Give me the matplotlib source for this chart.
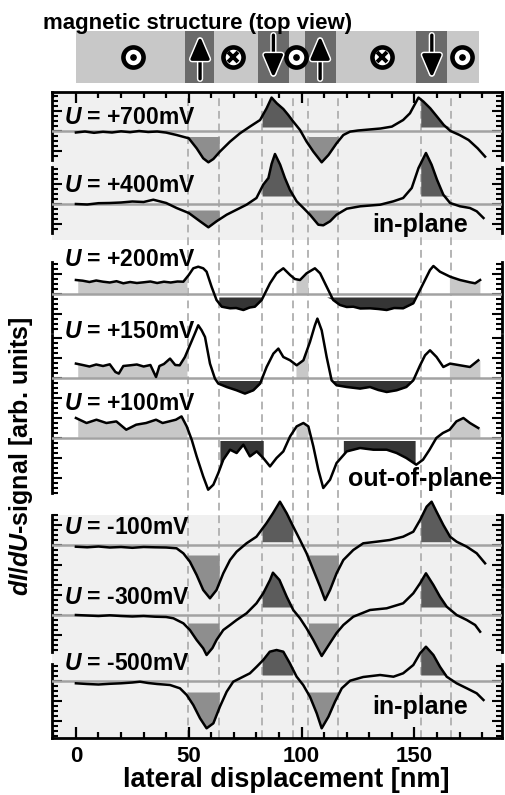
import numpy as np
import matplotlib
matplotlib.use("Agg")
import matplotlib.pyplot as plt
from matplotlib.ticker import MultipleLocator
import matplotlib.patheffects as pe

plt.rcParams['font.family'] = ['Liberation Sans', 'DejaVu Sans']
plt.rcParams['font.weight'] = 'bold'
plt.rcParams['mathtext.fontset'] = 'custom'
plt.rcParams['mathtext.it'] = 'Liberation Sans:italic:bold'
plt.rcParams['mathtext.rm'] = 'Liberation Sans:bold'

# ---------------- data (x in nm, signal in arb. units, 0 = trace baseline)
x700 = [0, 4, 8, 12, 16, 20, 24, 28, 32, 36, 40, 44.6, 50, 53.5, 56.4, 58.7, 60.9, 63.8, 68.3, 72.7,
        77.1, 81.6, 84.5, 86.7, 89, 91.9, 94.1, 96.3, 99.3, 102.2, 105.2, 108.9, 111.9, 115.5, 118.5,
        121.5, 125, 130, 135, 140, 145, 148, 150, 151.8, 154, 157, 160, 163, 166, 170, 174, 178, 181.3]
y700 = [-1.5, -0.5, -1.8, -0.8, -1.5, -0.3, -1.2, 0, -1, -0.5, -1.6, -4, -7.3, -17.3, -27.3, -31.3, -28,
        -20.6, -10.6, -2.3, 4.4, 11, 22.7, 33.4, 27.7, 22, 16, 9.4, 1, -10.6, -20.6, -31.3, -24, -12.3,
        -4, -0.6, 0.5, 1.5, 2.5, 4.4, 11, 17.7, 26, 33.4, 29.4, 22.7, 14.4, 6, 0, -4, -9, -17.3, -25.6]

x400 = [0, 5, 10, 15, 20, 25, 30, 34.3, 40, 44.6, 50, 55, 58.7, 62.3, 66.8, 71.2, 75.6, 80, 83, 85.3,
        86.7, 88.2, 90.5, 92.6, 94.8, 97.8, 100.8, 103.7, 107.4, 109.6, 112.6, 115.5, 120, 126, 134.8,
        140.7, 145, 148.8, 151.8, 155.1, 157.6, 160, 162.8, 165.8, 170.2, 174.6, 177.6, 180.6]
y400 = [0, -0.5, 0.8, 1, 1.5, 2.5, 2, 4.3, 1, -4, -9, -17.3, -23.3, -17.3, -10.7, -5.7, -0.7, 6, 19.3,
        26, 40, 50, 39.3, 26, 14.3, 2.7, -4, -10.7, -20.7, -21.3, -17.3, -10.7, -4.7, -2.3, -0.7, 2.7, 6,
        16, 36, 51, 39.3, 24.3, 9.3, 1, -2.3, -4, -7.3, -14]

x200 = [0, 3, 6, 9, 12, 15, 18, 21, 24, 27, 30, 33, 36, 39, 42, 45, 47.6, 50, 52, 54.2, 56.4, 57.9,
        60.1, 62.3, 64.6, 68.3, 71, 74.2, 77, 79.3, 82.3, 86, 88.9, 91.9, 94.9, 97, 99.3, 102.2, 105.9,
        108.2, 111.1, 114, 117, 120, 122.9, 126, 130.3, 134, 137.7, 141, 145, 149.5, 153.2, 156.9,
        158.4, 161.3, 165.8, 170.2, 174.6, 176.9, 179.1]
y200 = [14, 13.3, 12, 13.5, 12.3, 11.5, 12.8, 10.7, 12, 11, 11.7, 12.5, 11, 12.3, 11.5, 12.5, 12.3, 19,
        25.7, 27.3, 25.7, 22.3, 7.3, -6, -12.7, -14.3, -14, -16, -13.5, -12.7, -6, 10.7, 20.7, 25.7, 19,
        15, 14, 20.7, 25.7, 20.7, 7.3, -6, -11, -13, -12.7, -14.5, -14.3, -15, -16, -14, -14.3, -9.3,
        7.3, 24, 28, 22.3, 17.3, 14, 11.7, 10.7, 14]

x150 = [0, 3, 6, 9, 12, 15, 17.5, 19, 21, 24, 27, 30, 33, 35.5, 37, 39, 41.7, 44, 46, 48.3, 50.5,
        52.7, 54.2, 55.7, 57.2, 59.4, 61.6, 63.1, 66.8, 71.2, 74.9, 78.6, 81.6, 84.5, 87.5, 89.7, 91.9,
        94.9, 97.8, 100.8, 103.7, 105.9, 107, 108.9, 111.1, 113.3, 115.5, 120, 125.9, 130.3, 134,
        137.7, 142.1, 146.4, 149.5, 152.5, 154.7, 156.9, 159.8, 162.8, 165.8, 170.2, 174.6, 178.3]
y150 = [14.4, 13, 11.5, 13.5, 12, 13.7, 6, 4.4, 12, 12.7, 13.5, 11.5, 13, 1, 12, 14, 19.4, 13, 12.7,
        21, 32.7, 44.4, 52.7, 47.7, 41, 14.4, -0.6, -5.6, -9, -12.3, -15.6, -12.3, -5.6, 11, 24.4, 29.4,
        21, 17.7, 12.7, 17.7, 36, 52.7, 59.4, 47.7, 21, -2.3, -7.3, -9, -10.6, -9, -12, -14, -12.3, -9,
        -2.3, 12.7, 22.7, 27.7, 21, 11, 14.4, 12.7, 11, 17.7]

x100 = [0, 4.7, 9.1, 13.5, 17.9, 22.3, 26.7, 31.1, 35.5, 38.4, 41.3, 44.3, 46.8, 49.1, 51.3, 53.5,
        56.4, 58.6, 60.9, 63.1, 65.3, 68.3, 71.2, 74.2, 77.1, 80.1, 83, 86, 88.9, 91.9, 94.9, 97.8,
        100.8, 103, 105.2, 107.4, 109.6, 112.6, 115.5, 120, 125.9, 131.8, 137.7, 142.1, 146.4, 150.8,
        153.8, 156.7, 159.7, 162.6, 165.6, 168.6, 171.7, 174.6, 178.3]
y100 = [20, 15, 18.3, 15, 16.6, 8.3, 13.3, 15, 18.3, 15, 16.6, 18.3, 21.6, 11.6, -1.7, -18.4, -38.4,
        -51.7, -46.7, -35, -21.7, -11.7, -15, -6.7, -18.4, -13.4, -20, -28.4, -20, -13.4, 1.6, 11.6, 15,
        11.6, -8.4, -31.7, -50, -41.7, -25, -13.4, -10, -11.7, -11.7, -15, -20, -26.7, -21.7, -11.7, 0,
        5, 8.3, 16.6, 20, 15, 10]

xm100 = [0, 5, 10, 15, 20, 25, 30, 35, 40, 44.6, 47.6, 50.5, 53.5, 56.4, 59.4, 62.3, 65.3, 68.3, 71.2,
         75.6, 80, 84.4, 87.3, 90.4, 93.4, 96.3, 99.3, 102.2, 105.2, 108.2, 110.4, 112.6, 115.5, 118.5,
         122.9, 127.3, 133.2, 139.1, 145, 149.5, 152.5, 155.4, 157.6, 159.8, 162.8, 165.8, 168.7, 173.2,
         177.6, 181.3]
ym100 = [-1.7, -2.3, -1.5, -2.5, -2, -2.8, -2, -2.3, -2.5, -3.3, -8.3, -16.7, -30, -45, -53.3, -45,
         -28.3, -15, -6.7, 1.7, 8.3, 21.7, 31.7, 43.3, 31.7, 18.3, 5, -8.3, -25, -41.7, -55, -45, -28.3,
         -15, -5, 1.7, 3.3, 5, 8.3, 13.3, 25, 38.3, 43.3, 33.3, 20, 8.3, 3.3, -1.7, -8.3, -18.3]

xm300 = [0, 5, 10, 15, 20, 25, 30, 35, 40, 43.2, 47.6, 50.5, 53.5, 56.4, 57.9, 60.5, 62.3, 65.3, 68.3,
         71.2, 75.6, 80, 83, 86, 87.3, 90.2, 93.4, 96.3, 99.3, 102.2, 105.2, 108.9, 112.6, 115.5, 118.5,
         122.9, 130.3, 137.7, 145, 149.5, 152.5, 155.1, 158.4, 161.3, 164.3, 168.7, 173.2, 176.9, 179.1]
ym300 = [0, -0.5, -1, -0.3, -1, -1.5, -1, -1.7, -2, -3.3, -8.3, -15, -25, -33.3, -40, -33, -25, -15,
         -10, -5, 1.7, 11.7, 21.7, 35, 42.3, 35, 18.3, 5, -3.3, -13.3, -25, -41, -28, -18, -10, -1.7, 5,
         6.7, 11.7, 21.7, 31.7, 41.7, 30, 18.3, 8.3, 0, -5, -10, -16.7]

xm500 = [0, 5, 10, 15, 20, 25, 28.4, 32, 36, 41.7, 46.1, 49.1, 52, 55, 57.9, 60.9, 63.8, 66.8, 69.7,
         72.7, 77.1, 80.1, 83, 85.9, 88.9, 91.9, 94.8, 97.8, 100.7, 103.7, 106.7, 108.9, 111.9, 114.8,
         117.8, 121.5, 127.3, 134.8, 140.7, 145, 149.5, 152.5, 155.1, 158.4, 161.3, 164.3, 168.7, 173.2,
         177.6, 180.6]
ym500 = [-2.3, -3, -3.5, -2.8, -2.3, -1.5, -0.7, -2, -3, -4, -7.3, -14, -24, -37.3, -47.3, -42.3,
         -25.7, -10.7, -0.7, 2.7, 7.7, 14.3, 21, 29.3, 31, 29.3, 17.7, 4.3, -4, -15.7, -32.3, -47.3,
         -35.7, -20.7, -7.3, 0.3, 4, 6, 4.3, 7.7, 16, 27.7, 34.3, 26, 14.3, 4.3, -2.3, -7.3, -12.3, -19]

labels = ['+700', '+400', '+200', '+150', '+100', '-100', '-300', '-500']
kinds = ['in', 'in', 'out', 'out', 'out', 'in', 'in', 'in']
xs_all = [x700, x400, x200, x150, x100, xm100, xm300, xm500]
ys_all = [y700, y400, y200, y150, y100, ym100, ym300, ym500]

# domain walls (dashed lines) and top-view structure
walls = [49.5, 63.5, 82.5, 96, 103, 116.3, 152.8, 166]
bands = [(48.3, 61.3), (80.7, 94.4), (101.5, 115.2), (150.7, 164.5)]
sym_x = [25.4, 55, 69.7, 87.5, 97.4, 108.2, 135.5, 157.7, 171]
sym_kind = ['out', 'up', 'in', 'down', 'out', 'up', 'in', 'down', 'out']

# ---------------- layout (figure pixel rows)
W, H = 505, 795
base_px = [131, 204, 294, 378, 438, 545, 615, 681]
seg_px = [(92, 160), (167, 233), (262, 332), (335, 398), (401, 493), (515, 587), (590, 652), (664, 738)]
lab_px = [118, 185, 260, 332, 404, 528, 598, 664]
fill_up = [4, 8, 0, 0, 1, 3.3, 8, 6]
fill_dn = [-5.5, -6, -3, -2.5, -2.5, -10, -8, -11]

X0, X1 = -10.6, 188.8
axL, axR, axT, axB = 52, 502, 92, 738

fig = plt.figure(figsize=(W / 100, H / 100), dpi=100)
ax = fig.add_axes([axL / W, 1 - axB / H, (axR - axL) / W, (axB - axT) / H])
ax.set_xlim(X0, X1)
ax.set_ylim(0, axB - axT)
ax.axhspan(axB - 240, axB - axT, color='#f0f0f0', lw=0, zorder=0)
ax.axhspan(0, axB - 515, color='#f0f0f0', lw=0, zorder=0)
for w in walls:
    ax.axvline(w, color='#b4b4b4', lw=1.4, ls=(0, (4, 2.5)), zorder=1)
ax.spines['left'].set_visible(False)
ax.spines['right'].set_visible(False)
for s in ['top', 'bottom']:
    ax.spines[s].set_linewidth(2)
ax.set_yticks([])
ax.xaxis.set_major_locator(MultipleLocator(50))
ax.xaxis.set_minor_locator(MultipleLocator(10))
ax.tick_params(axis='x', which='both', direction='in', top=True, width=1.6)
ax.tick_params(axis='x', which='major', length=8, labelsize=16, pad=6)
ax.tick_params(axis='x', which='minor', length=4.5)
for t in ax.get_xticklabels():
    t.set_fontweight('bold')


def span(x, y, a, b):
    m = (x > a) & (x < b)
    xx = np.concatenate([[a], x[m], [b]])
    return xx, np.interp(xx, x, y)


for i in range(len(labels)):
    x = np.array(xs_all[i], float)
    y = np.array(ys_all[i], float)
    top, bot = seg_px[i]
    b = base_px[i]
    tax = fig.add_axes([axL / W, 1 - bot / H, (axR - axL) / W, (bot - top) / H], sharex=ax)
    tax.set_facecolor('none')
    tax.set_ylim(-(bot - b), b - top)
    up, dn = fill_up[i], fill_dn[i]
    if kinds[i] == 'in':
        for a, c in [(82.5, 96), (152.8, 166)]:
            xx, yy = span(x, y, a, c)
            tax.fill_between(xx, up, np.maximum(yy, up), color='#5c5c5c', lw=0, clip_on=False, zorder=2)
        for a, c in [(49.5, 63.5), (103, 116.3)]:
            xx, yy = span(x, y, a, c)
            tax.fill_between(xx, dn, np.minimum(yy, dn), color='#8e8e8e', lw=0, clip_on=False, zorder=2)
    else:
        for a, c in [(0.8, 49.2), (97.5, 102.8), (165.5, 179)]:
            xx, yy = span(x, y, a, c)
            tax.fill_between(xx, up, np.maximum(yy, up), color='#c8c8c8', lw=0, clip_on=False, zorder=2)
        for a, c in [(63.3, 82.5), (104, 150.5)] if i < 4 else [(63.8, 83), (118.5, 150.3)]:
            xx, yy = span(x, y, a, c)
            tax.fill_between(xx, dn, np.minimum(yy, dn), color='#353535', lw=0, clip_on=False, zorder=2)
    tax.axhline(0, color='#a2a2a2', lw=1.8, zorder=3)
    tax.plot(x, y, color='black', lw=1.8, clip_on=False, zorder=4, solid_joinstyle='round')
    for s in ['top', 'bottom']:
        tax.spines[s].set_visible(False)
    for s in ['left', 'right']:
        tax.spines[s].set_linewidth(2)
    tax.yaxis.set_major_locator(MultipleLocator(20))
    tax.yaxis.set_minor_locator(MultipleLocator(5))
    tax.tick_params(axis='y', which='both', direction='in', left=True, right=True,
                    labelleft=False, width=1.5)
    tax.tick_params(axis='y', which='major', length=7)
    tax.tick_params(axis='y', which='minor', length=4)
    tax.tick_params(axis='x', which='both', bottom=False, top=False, labelbottom=False)
    fig.text(64 / W, 1 - lab_px[i] / H, r'$U$ = ' + labels[i] + 'mV', fontsize=16.5,
             fontweight='bold', va='center', ha='left', zorder=5)

fig.text(420 / W, 1 - 225 / H, 'in-plane', fontsize=18, fontweight='bold', ha='center', va='center')
fig.text(420 / W, 1 - 479 / H, 'out-of-plane', fontsize=18, fontweight='bold', ha='center', va='center')
fig.text(420 / W, 1 - 707 / H, 'in-plane', fontsize=18, fontweight='bold', ha='center', va='center')

fig.text(286 / W, 1 - 780 / H, 'lateral displacement [nm]', fontsize=19.5, fontweight='bold',
         ha='center', va='center')
fig.text(21 / W, 1 - 456 / H, r'$dI/dU$-signal [arb. units]', fontsize=18, fontweight='bold',
         rotation=90, ha='center', va='center')

# ---------------- magnetic structure bar
bax = fig.add_axes([axL / W, 1 - 83 / H, (axR - axL) / W, 52 / H])
bax.set_xlim(X0, X1)
bax.set_ylim(0, 1)
bax.axis('off')
bax.axvspan(0, 178.6, color='#c8c8c8', lw=0)
for a, c in bands:
    bax.axvspan(a, c, color='#6a6a6a', lw=0)
for sx, k in zip(sym_x, sym_kind):
    if k in ('out', 'in'):
        bax.plot(sx, 0.5, marker='o', ms=14.5, mfc='white', mec='black', mew=3.3)
        if k == 'out':
            bax.plot(sx, 0.5, marker='o', ms=3.8, color='black')
        else:
            bax.plot(sx, 0.5, marker='x', ms=6.5, color='black', mew=2.8)
    else:
        y0, y1 = (0.08, 0.9) if k == 'up' else (0.92, 0.1)
        ann = bax.annotate('', xy=(sx, y1), xytext=(sx, y0),
                           arrowprops=dict(arrowstyle='-|>,head_length=0.75,head_width=0.32', lw=2.4,
                                           color='black', mutation_scale=18, shrinkA=0, shrinkB=0))
        ann.arrow_patch.set_path_effects([pe.Stroke(linewidth=4.5, foreground='white'), pe.Normal()])

fig.text(43 / W, 1 - 24 / H, 'magnetic structure (top view)', fontsize=16, fontweight='bold',
         ha='left', va='center')

fig.savefig('out.png', dpi=100)
